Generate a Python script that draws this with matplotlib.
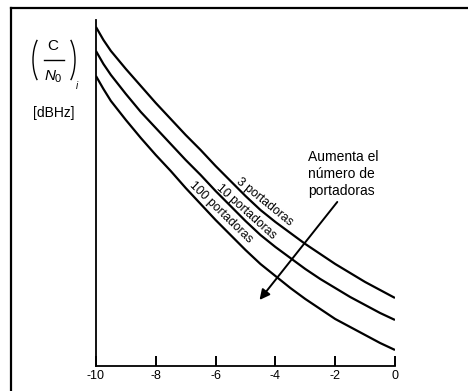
import numpy as np
import matplotlib
matplotlib.use('Agg')
import matplotlib.pyplot as plt
from matplotlib.lines import Line2D
from matplotlib.patches import Arc

plt.rcParams['font.family'] = ['Liberation Sans', 'DejaVu Sans']

# backoff values (x axis) and C/N0 curves (arbitrary vertical units)
backoff = [-10, -9.75, -9.5, -9, -8.5, -8, -7.5, -7, -6.5, -6, -5.5, -5,
           -4.5, -4, -3.5, -3, -2.5, -2, -1.5, -1, -0.5, 0]
cn_3 = [339, 326, 315, 297, 280, 263, 247, 231, 216, 200, 185, 170,
        156, 144, 133, 122, 112, 102, 93, 84, 76, 68]
cn_10 = [315, 302, 291, 272, 254, 238, 222, 206, 191, 175, 160, 145,
         131, 119, 108, 97, 87, 78, 69, 61, 53, 46]
cn_100 = [290, 277, 265, 246, 228, 211, 195, 178, 162, 146, 131, 116,
          102, 90, 78, 67, 57, 47, 39, 31, 23, 16]
curve_labels = ['3 portadoras', '10 portadoras', '100 portadoras']
x_ticks = [-10, -8, -6, -4, -2, 0]

W, H = 468, 391


def fx(px):
    return px / W


def fy(py):
    return 1 - py / H


fig = plt.figure(figsize=(4.68, 3.91), dpi=100)
ax = fig.add_axes([0.205, 0.064, 0.639, 0.885])

for vals in [cn_3, cn_10, cn_100]:
    ax.plot(backoff, vals, color='black', lw=1.6, solid_capstyle='butt')

# labels written just above the curves
ax.text(-4.5, 159, curve_labels[0], rotation=-39, rotation_mode='anchor',
        ha='center', va='bottom', fontsize=8.8)
ax.text(-5.1, 150, curve_labels[1], rotation=-42, rotation_mode='anchor',
        ha='center', va='bottom', fontsize=8.8)
ax.text(-5.95, 149, curve_labels[2], rotation=-44, rotation_mode='anchor',
        ha='center', va='bottom', fontsize=8.8)

ax.text(-2.9, 192, 'Aumenta el\nnúmero de\nportadoras', ha='left', va='center',
        fontsize=10, linespacing=1.25)
ax.annotate('', xy=(-4.53, 66), xytext=(-1.93, 164),
            arrowprops=dict(arrowstyle='-|>', color='black', lw=1.4,
                            mutation_scale=15, shrinkA=0, shrinkB=0))

ax.set_xlim(-10, 0)
ax.set_ylim(0, 346)
ax.set_xticks(x_ticks)
ax.set_xticklabels([str(t) for t in x_ticks])
ax.set_yticks([])
ax.tick_params(axis='x', direction='in', length=7, width=1.4, labelsize=9, pad=3)
for s in ['top', 'right']:
    ax.spines[s].set_visible(False)
for s in ['left', 'bottom']:
    ax.spines[s].set_linewidth(1.3)

# y axis label (C/N0)_i with tall parentheses
fig.text(fx(53), fy(46), 'C', ha='center', va='center', fontsize=11)
fig.add_artist(Line2D([fx(44), fx(64)], [fy(60), fy(60)], color='black', lw=1.0))
fig.text(fx(50), fy(76), 'N', ha='center', va='center', fontsize=11, style='italic')
fig.text(fx(58), fy(79), '0', ha='center', va='center', fontsize=8)
fig.text(fx(77), fy(86), 'i', ha='center', va='center', fontsize=7, style='italic')
fig.add_artist(Arc((fx(47), fy(60)), fx(28), 56 / H, theta1=112, theta2=248,
                   color='black', lw=1.0, transform=fig.transFigure))
fig.add_artist(Arc((fx(61), fy(60)), fx(28), 56 / H, theta1=-68, theta2=68,
                   color='black', lw=1.0, transform=fig.transFigure))
fig.text(fx(54), fy(113), '[dBHz]', ha='center', va='center', fontsize=10)

# frame lines of the cropped figure
fig.add_artist(Line2D([fx(11), 1], [fy(8), fy(8)], color='black', lw=1.6))
fig.add_artist(Line2D([fx(11), fx(11)], [0, fy(8)], color='black', lw=1.6))

fig.savefig('out.png', dpi=100, facecolor='white')
